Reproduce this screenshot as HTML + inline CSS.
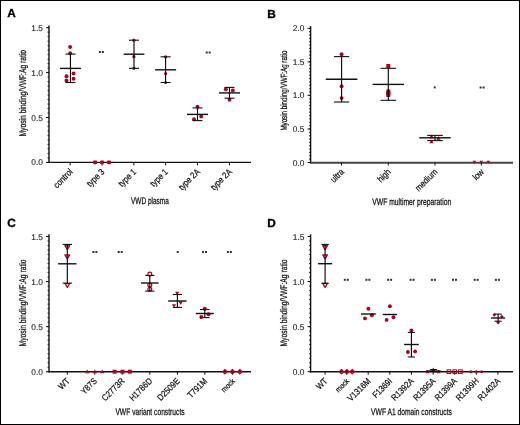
<!DOCTYPE html>
<html><head><meta charset="utf-8"><style>
html,body{margin:0;padding:0;background:#fff;}
svg{display:block;will-change:transform;}
text{font-family:"Liberation Sans",sans-serif;text-rendering:geometricPrecision;}
.t{stroke:#000;stroke-width:0.25px;}
.t2{stroke:#000;stroke-width:0.22px;}
.t3{stroke:#222;stroke-width:0.1px;}
</style></head><body>
<svg width="520" height="425" viewBox="0 0 520 425">
<rect x="0" y="0" width="520" height="425" fill="#fff"/>
<rect x="0.5" y="0.5" width="519" height="424" fill="none" stroke="#000" stroke-width="1"/>
<text x="7.2" y="17.3" font-size="11.8" text-anchor="start" font-weight="bold" fill="#000" stroke="#000" stroke-width="0.35">A</text>
<line x1="49.0" y1="25.500000000000018" x2="49.0" y2="163.0" stroke="#111" stroke-width="1.4"/>
<line x1="48.3" y1="162.4" x2="251" y2="162.4" stroke="#111" stroke-width="1.4"/>
<line x1="46.0" y1="27.700000000000017" x2="49.0" y2="27.700000000000017" stroke="#111" stroke-width="1.0"/>
<text x="43.0" y="30.700000000000017" font-size="8.4" text-anchor="end" font-weight="normal" fill="#1a1a1a" class="t3">1.5</text>
<line x1="46.0" y1="72.60000000000001" x2="49.0" y2="72.60000000000001" stroke="#111" stroke-width="1.0"/>
<text x="43.0" y="75.60000000000001" font-size="8.4" text-anchor="end" font-weight="normal" fill="#1a1a1a" class="t3">1.0</text>
<line x1="46.0" y1="117.5" x2="49.0" y2="117.5" stroke="#111" stroke-width="1.0"/>
<text x="43.0" y="120.5" font-size="8.4" text-anchor="end" font-weight="normal" fill="#1a1a1a" class="t3">0.5</text>
<line x1="46.0" y1="162.4" x2="49.0" y2="162.4" stroke="#111" stroke-width="1.0"/>
<text x="43.0" y="165.4" font-size="8.4" text-anchor="end" font-weight="normal" fill="#1a1a1a" class="t3">0.0</text>
<line x1="47.5" y1="27.700000000000017" x2="49.0" y2="27.700000000000017" stroke="#111" stroke-width="0.9"/>
<line x1="47.5" y1="32.19000000000002" x2="49.0" y2="32.19000000000002" stroke="#111" stroke-width="0.9"/>
<line x1="47.5" y1="36.68000000000002" x2="49.0" y2="36.68000000000002" stroke="#111" stroke-width="0.9"/>
<line x1="47.5" y1="41.170000000000016" x2="49.0" y2="41.170000000000016" stroke="#111" stroke-width="0.9"/>
<line x1="47.5" y1="45.66000000000002" x2="49.0" y2="45.66000000000002" stroke="#111" stroke-width="0.9"/>
<line x1="47.5" y1="50.15000000000002" x2="49.0" y2="50.15000000000002" stroke="#111" stroke-width="0.9"/>
<line x1="47.5" y1="54.640000000000015" x2="49.0" y2="54.640000000000015" stroke="#111" stroke-width="0.9"/>
<line x1="47.5" y1="59.13000000000002" x2="49.0" y2="59.13000000000002" stroke="#111" stroke-width="0.9"/>
<line x1="47.5" y1="63.62000000000002" x2="49.0" y2="63.62000000000002" stroke="#111" stroke-width="0.9"/>
<line x1="47.5" y1="68.11000000000001" x2="49.0" y2="68.11000000000001" stroke="#111" stroke-width="0.9"/>
<line x1="47.5" y1="72.60000000000002" x2="49.0" y2="72.60000000000002" stroke="#111" stroke-width="0.9"/>
<line x1="47.5" y1="77.09000000000002" x2="49.0" y2="77.09000000000002" stroke="#111" stroke-width="0.9"/>
<line x1="47.5" y1="81.58000000000001" x2="49.0" y2="81.58000000000001" stroke="#111" stroke-width="0.9"/>
<line x1="47.5" y1="86.07000000000002" x2="49.0" y2="86.07000000000002" stroke="#111" stroke-width="0.9"/>
<line x1="47.5" y1="90.56000000000002" x2="49.0" y2="90.56000000000002" stroke="#111" stroke-width="0.9"/>
<line x1="47.5" y1="95.05000000000003" x2="49.0" y2="95.05000000000003" stroke="#111" stroke-width="0.9"/>
<line x1="47.5" y1="99.54000000000002" x2="49.0" y2="99.54000000000002" stroke="#111" stroke-width="0.9"/>
<line x1="47.5" y1="104.03000000000002" x2="49.0" y2="104.03000000000002" stroke="#111" stroke-width="0.9"/>
<line x1="47.5" y1="108.52000000000002" x2="49.0" y2="108.52000000000002" stroke="#111" stroke-width="0.9"/>
<line x1="47.5" y1="113.01000000000002" x2="49.0" y2="113.01000000000002" stroke="#111" stroke-width="0.9"/>
<line x1="47.5" y1="117.50000000000003" x2="49.0" y2="117.50000000000003" stroke="#111" stroke-width="0.9"/>
<line x1="47.5" y1="121.99000000000002" x2="49.0" y2="121.99000000000002" stroke="#111" stroke-width="0.9"/>
<line x1="47.5" y1="126.48000000000002" x2="49.0" y2="126.48000000000002" stroke="#111" stroke-width="0.9"/>
<line x1="47.5" y1="130.97000000000003" x2="49.0" y2="130.97000000000003" stroke="#111" stroke-width="0.9"/>
<line x1="47.5" y1="135.46000000000004" x2="49.0" y2="135.46000000000004" stroke="#111" stroke-width="0.9"/>
<line x1="47.5" y1="139.95000000000002" x2="49.0" y2="139.95000000000002" stroke="#111" stroke-width="0.9"/>
<line x1="47.5" y1="144.44000000000003" x2="49.0" y2="144.44000000000003" stroke="#111" stroke-width="0.9"/>
<line x1="47.5" y1="148.93" x2="49.0" y2="148.93" stroke="#111" stroke-width="0.9"/>
<line x1="47.5" y1="153.42000000000002" x2="49.0" y2="153.42000000000002" stroke="#111" stroke-width="0.9"/>
<line x1="47.5" y1="157.91000000000003" x2="49.0" y2="157.91000000000003" stroke="#111" stroke-width="0.9"/>
<line x1="47.5" y1="162.40000000000003" x2="49.0" y2="162.40000000000003" stroke="#111" stroke-width="0.9"/>
<line x1="70.2" y1="162.4" x2="70.2" y2="165.4" stroke="#111" stroke-width="1.0"/>
<line x1="102.0" y1="162.4" x2="102.0" y2="165.4" stroke="#111" stroke-width="1.0"/>
<line x1="133.8" y1="162.4" x2="133.8" y2="165.4" stroke="#111" stroke-width="1.0"/>
<line x1="165.6" y1="162.4" x2="165.6" y2="165.4" stroke="#111" stroke-width="1.0"/>
<line x1="197.5" y1="162.4" x2="197.5" y2="165.4" stroke="#111" stroke-width="1.0"/>
<line x1="229.5" y1="162.4" x2="229.5" y2="165.4" stroke="#111" stroke-width="1.0"/>
<text x="73.2" y="172.4" font-size="8.9" text-anchor="end" fill="#1a1a1a" class="t2" textLength="22.97" lengthAdjust="spacingAndGlyphs" transform="rotate(-45 73.2 172.4)">control</text>
<text x="105.0" y="172.4" font-size="8.9" text-anchor="end" fill="#1a1a1a" class="t2" textLength="20.85" lengthAdjust="spacingAndGlyphs" transform="rotate(-45 105.0 172.4)">type 3</text>
<text x="136.8" y="172.4" font-size="8.9" text-anchor="end" fill="#1a1a1a" class="t2" textLength="20.85" lengthAdjust="spacingAndGlyphs" transform="rotate(-45 136.8 172.4)">type 1</text>
<text x="168.6" y="172.4" font-size="8.9" text-anchor="end" fill="#1a1a1a" class="t2" textLength="20.85" lengthAdjust="spacingAndGlyphs" transform="rotate(-45 168.6 172.4)">type 1</text>
<text x="200.5" y="172.4" font-size="8.9" text-anchor="end" fill="#1a1a1a" class="t2" textLength="25.95" lengthAdjust="spacingAndGlyphs" transform="rotate(-45 200.5 172.4)">type 2A</text>
<text x="232.5" y="172.4" font-size="8.9" text-anchor="end" fill="#1a1a1a" class="t2" textLength="25.95" lengthAdjust="spacingAndGlyphs" transform="rotate(-45 232.5 172.4)">type 2A</text>
<text x="26.2" y="93.2" font-size="9.6" text-anchor="middle" fill="#1a1a1a" textLength="86.6" lengthAdjust="spacingAndGlyphs" class="t" transform="rotate(-90 26.2 93.2)">Myosin binding/VWF:Ag ratio</text>
<text x="131.0" y="203.8" font-size="9.6" fill="#1a1a1a" class="t" textLength="37.80000000000001" lengthAdjust="spacingAndGlyphs">VWD plasma</text>
<circle cx="70.1" cy="47.0" r="1.95" fill="#b30020" stroke="none" stroke-width="0"/>
<circle cx="70.2" cy="53.2" r="1.95" fill="#b30020" stroke="none" stroke-width="0"/>
<circle cx="73.6" cy="73.5" r="1.95" fill="#b30020" stroke="none" stroke-width="0"/>
<circle cx="66.5" cy="76.3" r="1.95" fill="#b30020" stroke="none" stroke-width="0"/>
<circle cx="73.6" cy="78.8" r="1.95" fill="#b30020" stroke="none" stroke-width="0"/>
<circle cx="66.5" cy="80.5" r="1.95" fill="#b30020" stroke="none" stroke-width="0"/>
<rect x="93.0" y="160.6" width="4.2" height="3.6" rx="1.1" fill="#b30020"/>
<rect x="100.0" y="160.6" width="4.2" height="3.6" rx="1.1" fill="#b30020"/>
<rect x="106.9" y="160.6" width="4.2" height="3.6" rx="1.1" fill="#b30020"/>
<circle cx="133.9" cy="40.2" r="1.6" fill="#b30020" stroke="none" stroke-width="0"/>
<circle cx="133.9" cy="56.7" r="1.6" fill="#b30020" stroke="none" stroke-width="0"/>
<circle cx="133.9" cy="68.3" r="1.6" fill="#b30020" stroke="none" stroke-width="0"/>
<circle cx="165.6" cy="56.8" r="1.6" fill="#b30020" stroke="none" stroke-width="0"/>
<circle cx="165.6" cy="73.5" r="1.6" fill="#b30020" stroke="none" stroke-width="0"/>
<circle cx="165.6" cy="82.5" r="1.6" fill="#b30020" stroke="none" stroke-width="0"/>
<circle cx="197.5" cy="106.8" r="1.95" fill="#b30020" stroke="none" stroke-width="0"/>
<circle cx="201.2" cy="116.5" r="1.95" fill="#b30020" stroke="none" stroke-width="0"/>
<circle cx="194" cy="119.2" r="1.95" fill="#b30020" stroke="none" stroke-width="0"/>
<circle cx="225.8" cy="89.3" r="1.95" fill="#b30020" stroke="none" stroke-width="0"/>
<circle cx="232.8" cy="90.4" r="1.95" fill="#b30020" stroke="none" stroke-width="0"/>
<circle cx="229.5" cy="99.7" r="1.95" fill="#b30020" stroke="none" stroke-width="0"/>
<rect x="98.9" y="51.0" width="2" height="2" fill="#333"/>
<rect x="101.9" y="51.0" width="2" height="2" fill="#333"/>
<rect x="205.70000000000002" y="51.5" width="2" height="2" fill="#333"/>
<rect x="208.70000000000002" y="51.5" width="2" height="2" fill="#333"/>
<line x1="70.45" y1="54.1" x2="70.45" y2="82.5" stroke="#000" stroke-width="1.1"/>
<line x1="65.45" y1="54.1" x2="75.45" y2="54.1" stroke="#111" stroke-width="1.1"/>
<line x1="65.45" y1="82.5" x2="75.45" y2="82.5" stroke="#111" stroke-width="1.1"/>
<line x1="59.95" y1="68.4" x2="80.95" y2="68.4" stroke="#111" stroke-width="1.4"/>
<line x1="134.0" y1="40.2" x2="134.0" y2="68.3" stroke="#000" stroke-width="1.1"/>
<line x1="129.0" y1="40.2" x2="139.0" y2="40.2" stroke="#111" stroke-width="1.1"/>
<line x1="129.0" y1="68.3" x2="139.0" y2="68.3" stroke="#111" stroke-width="1.1"/>
<line x1="123.6" y1="54.2" x2="144.4" y2="54.2" stroke="#111" stroke-width="1.4"/>
<line x1="165.6" y1="56.8" x2="165.6" y2="82.5" stroke="#000" stroke-width="1.1"/>
<line x1="160.6" y1="56.8" x2="170.6" y2="56.8" stroke="#111" stroke-width="1.1"/>
<line x1="160.6" y1="82.5" x2="170.6" y2="82.5" stroke="#111" stroke-width="1.1"/>
<line x1="155.1" y1="69.8" x2="176.1" y2="69.8" stroke="#111" stroke-width="1.4"/>
<line x1="197.5" y1="107.9" x2="197.5" y2="120.6" stroke="#000" stroke-width="1.1"/>
<line x1="192.5" y1="107.9" x2="202.5" y2="107.9" stroke="#111" stroke-width="1.1"/>
<line x1="192.5" y1="120.6" x2="202.5" y2="120.6" stroke="#111" stroke-width="1.1"/>
<line x1="187.0" y1="114.4" x2="208.0" y2="114.4" stroke="#111" stroke-width="1.4"/>
<line x1="229.5" y1="87.4" x2="229.5" y2="98.2" stroke="#000" stroke-width="1.1"/>
<line x1="224.5" y1="87.4" x2="234.5" y2="87.4" stroke="#111" stroke-width="1.1"/>
<line x1="224.5" y1="98.2" x2="234.5" y2="98.2" stroke="#111" stroke-width="1.1"/>
<line x1="219.0" y1="92.9" x2="240.0" y2="92.9" stroke="#111" stroke-width="1.4"/>
<text x="267.2" y="17.6" font-size="11.8" text-anchor="start" font-weight="bold" fill="#000" stroke="#000" stroke-width="0.35">B</text>
<line x1="310.6" y1="26.100000000000012" x2="310.6" y2="163.1" stroke="#111" stroke-width="1.4"/>
<line x1="309.90000000000003" y1="162.8" x2="513" y2="162.8" stroke="#444" stroke-width="2.0"/>
<line x1="307.6" y1="28.30000000000001" x2="310.6" y2="28.30000000000001" stroke="#111" stroke-width="1.0"/>
<text x="304.4" y="31.30000000000001" font-size="8.4" text-anchor="end" font-weight="normal" fill="#1a1a1a" class="t3">2.0</text>
<line x1="307.6" y1="61.85000000000001" x2="310.6" y2="61.85000000000001" stroke="#111" stroke-width="1.0"/>
<text x="304.4" y="64.85000000000001" font-size="8.4" text-anchor="end" font-weight="normal" fill="#1a1a1a" class="t3">1.5</text>
<line x1="307.6" y1="95.4" x2="310.6" y2="95.4" stroke="#111" stroke-width="1.0"/>
<text x="304.4" y="98.4" font-size="8.4" text-anchor="end" font-weight="normal" fill="#1a1a1a" class="t3">1.0</text>
<line x1="307.6" y1="128.95" x2="310.6" y2="128.95" stroke="#111" stroke-width="1.0"/>
<text x="304.4" y="131.95" font-size="8.4" text-anchor="end" font-weight="normal" fill="#1a1a1a" class="t3">0.5</text>
<line x1="307.6" y1="162.5" x2="310.6" y2="162.5" stroke="#111" stroke-width="1.0"/>
<text x="304.4" y="165.5" font-size="8.4" text-anchor="end" font-weight="normal" fill="#1a1a1a" class="t3">0.0</text>
<line x1="309.1" y1="28.30000000000001" x2="310.6" y2="28.30000000000001" stroke="#111" stroke-width="0.9"/>
<line x1="309.1" y1="31.655000000000012" x2="310.6" y2="31.655000000000012" stroke="#111" stroke-width="0.9"/>
<line x1="309.1" y1="35.01000000000001" x2="310.6" y2="35.01000000000001" stroke="#111" stroke-width="0.9"/>
<line x1="309.1" y1="38.36500000000001" x2="310.6" y2="38.36500000000001" stroke="#111" stroke-width="0.9"/>
<line x1="309.1" y1="41.72000000000001" x2="310.6" y2="41.72000000000001" stroke="#111" stroke-width="0.9"/>
<line x1="309.1" y1="45.07500000000001" x2="310.6" y2="45.07500000000001" stroke="#111" stroke-width="0.9"/>
<line x1="309.1" y1="48.43000000000001" x2="310.6" y2="48.43000000000001" stroke="#111" stroke-width="0.9"/>
<line x1="309.1" y1="51.78500000000001" x2="310.6" y2="51.78500000000001" stroke="#111" stroke-width="0.9"/>
<line x1="309.1" y1="55.140000000000015" x2="310.6" y2="55.140000000000015" stroke="#111" stroke-width="0.9"/>
<line x1="309.1" y1="58.49500000000001" x2="310.6" y2="58.49500000000001" stroke="#111" stroke-width="0.9"/>
<line x1="309.1" y1="61.85000000000001" x2="310.6" y2="61.85000000000001" stroke="#111" stroke-width="0.9"/>
<line x1="309.1" y1="65.20500000000001" x2="310.6" y2="65.20500000000001" stroke="#111" stroke-width="0.9"/>
<line x1="309.1" y1="68.56" x2="310.6" y2="68.56" stroke="#111" stroke-width="0.9"/>
<line x1="309.1" y1="71.91500000000002" x2="310.6" y2="71.91500000000002" stroke="#111" stroke-width="0.9"/>
<line x1="309.1" y1="75.27000000000001" x2="310.6" y2="75.27000000000001" stroke="#111" stroke-width="0.9"/>
<line x1="309.1" y1="78.62500000000001" x2="310.6" y2="78.62500000000001" stroke="#111" stroke-width="0.9"/>
<line x1="309.1" y1="81.98000000000002" x2="310.6" y2="81.98000000000002" stroke="#111" stroke-width="0.9"/>
<line x1="309.1" y1="85.33500000000001" x2="310.6" y2="85.33500000000001" stroke="#111" stroke-width="0.9"/>
<line x1="309.1" y1="88.69000000000001" x2="310.6" y2="88.69000000000001" stroke="#111" stroke-width="0.9"/>
<line x1="309.1" y1="92.04500000000002" x2="310.6" y2="92.04500000000002" stroke="#111" stroke-width="0.9"/>
<line x1="309.1" y1="95.4" x2="310.6" y2="95.4" stroke="#111" stroke-width="0.9"/>
<line x1="309.1" y1="98.75500000000001" x2="310.6" y2="98.75500000000001" stroke="#111" stroke-width="0.9"/>
<line x1="309.1" y1="102.11000000000001" x2="310.6" y2="102.11000000000001" stroke="#111" stroke-width="0.9"/>
<line x1="309.1" y1="105.46500000000002" x2="310.6" y2="105.46500000000002" stroke="#111" stroke-width="0.9"/>
<line x1="309.1" y1="108.82000000000001" x2="310.6" y2="108.82000000000001" stroke="#111" stroke-width="0.9"/>
<line x1="309.1" y1="112.17500000000001" x2="310.6" y2="112.17500000000001" stroke="#111" stroke-width="0.9"/>
<line x1="309.1" y1="115.53000000000002" x2="310.6" y2="115.53000000000002" stroke="#111" stroke-width="0.9"/>
<line x1="309.1" y1="118.885" x2="310.6" y2="118.885" stroke="#111" stroke-width="0.9"/>
<line x1="309.1" y1="122.24000000000001" x2="310.6" y2="122.24000000000001" stroke="#111" stroke-width="0.9"/>
<line x1="309.1" y1="125.59500000000001" x2="310.6" y2="125.59500000000001" stroke="#111" stroke-width="0.9"/>
<line x1="309.1" y1="128.95000000000002" x2="310.6" y2="128.95000000000002" stroke="#111" stroke-width="0.9"/>
<line x1="309.1" y1="132.305" x2="310.6" y2="132.305" stroke="#111" stroke-width="0.9"/>
<line x1="309.1" y1="135.66000000000003" x2="310.6" y2="135.66000000000003" stroke="#111" stroke-width="0.9"/>
<line x1="309.1" y1="139.01500000000001" x2="310.6" y2="139.01500000000001" stroke="#111" stroke-width="0.9"/>
<line x1="309.1" y1="142.37" x2="310.6" y2="142.37" stroke="#111" stroke-width="0.9"/>
<line x1="309.1" y1="145.72500000000002" x2="310.6" y2="145.72500000000002" stroke="#111" stroke-width="0.9"/>
<line x1="309.1" y1="149.08" x2="310.6" y2="149.08" stroke="#111" stroke-width="0.9"/>
<line x1="309.1" y1="152.435" x2="310.6" y2="152.435" stroke="#111" stroke-width="0.9"/>
<line x1="309.1" y1="155.79000000000002" x2="310.6" y2="155.79000000000002" stroke="#111" stroke-width="0.9"/>
<line x1="309.1" y1="159.145" x2="310.6" y2="159.145" stroke="#111" stroke-width="0.9"/>
<line x1="309.1" y1="162.5" x2="310.6" y2="162.5" stroke="#111" stroke-width="0.9"/>
<line x1="341.5" y1="162.5" x2="341.5" y2="165.5" stroke="#111" stroke-width="1.0"/>
<line x1="388.3" y1="162.5" x2="388.3" y2="165.5" stroke="#111" stroke-width="1.0"/>
<line x1="435.0" y1="162.5" x2="435.0" y2="165.5" stroke="#111" stroke-width="1.0"/>
<line x1="481.3" y1="162.5" x2="481.3" y2="165.5" stroke="#111" stroke-width="1.0"/>
<text x="344.5" y="172.5" font-size="8.9" text-anchor="end" fill="#1a1a1a" class="t2" textLength="14.89" lengthAdjust="spacingAndGlyphs" transform="rotate(-45 344.5 172.5)">ultra</text>
<text x="391.3" y="172.5" font-size="8.9" text-anchor="end" fill="#1a1a1a" class="t2" textLength="14.47" lengthAdjust="spacingAndGlyphs" transform="rotate(-45 391.3 172.5)">high</text>
<text x="438.0" y="172.5" font-size="8.9" text-anchor="end" fill="#1a1a1a" class="t2" textLength="27.22" lengthAdjust="spacingAndGlyphs" transform="rotate(-45 438.0 172.5)">medium</text>
<text x="484.3" y="172.5" font-size="8.9" text-anchor="end" fill="#1a1a1a" class="t2" textLength="11.48" lengthAdjust="spacingAndGlyphs" transform="rotate(-45 484.3 172.5)">low</text>
<text x="286.8" y="90.6" font-size="9.0" text-anchor="middle" fill="#1a1a1a" textLength="80.0" lengthAdjust="spacingAndGlyphs" class="t" transform="rotate(-90 286.8 90.6)">Myosin binding/VWF:Ag ratio</text>
<text x="372.3" y="204.5" font-size="9.6" fill="#1a1a1a" class="t" textLength="78.89999999999998" lengthAdjust="spacingAndGlyphs">VWF multimer preparation</text>
<circle cx="341.6" cy="54.2" r="1.95" fill="#b30020" stroke="none" stroke-width="0"/>
<circle cx="341.6" cy="86.3" r="1.95" fill="#b30020" stroke="none" stroke-width="0"/>
<circle cx="341.6" cy="98.1" r="1.95" fill="#b30020" stroke="none" stroke-width="0"/>
<rect x="386.3" y="64.0" width="4.0" height="4.0" fill="#b30020"/>
<rect x="386.3" y="89.5" width="4.0" height="4.0" fill="#b30020"/>
<rect x="386.3" y="91.5" width="4.0" height="4.0" fill="#b30020"/>
<rect x="386.3" y="93.0" width="4.0" height="4.0" fill="#b30020"/>
<polygon points="429.3,138.15 433.7,138.15 431.5,134.41" fill="#b30020"/>
<polygon points="436.3,139.85 440.7,139.85 438.5,136.10999999999999" fill="#b30020"/>
<polygon points="429.3,143.15 433.7,143.15 431.5,139.41" fill="#b30020"/>
<polygon points="472.59999999999997,160.65 476.2,160.65 474.4,163.71" fill="#b30020"/>
<polygon points="479.5,160.65 483.1,160.65 481.3,163.71" fill="#b30020"/>
<polygon points="486.5,160.65 490.1,160.65 488.3,163.71" fill="#b30020"/>
<rect x="433.75" y="86.4" width="2" height="2" fill="#333"/>
<rect x="479.59999999999997" y="86.5" width="2" height="2" fill="#333"/>
<rect x="482.59999999999997" y="86.5" width="2" height="2" fill="#333"/>
<line x1="341.6" y1="56.6" x2="341.6" y2="102" stroke="#000" stroke-width="1.1"/>
<line x1="334.0" y1="56.6" x2="349.20000000000005" y2="56.6" stroke="#111" stroke-width="1.1"/>
<line x1="334.0" y1="102" x2="349.20000000000005" y2="102" stroke="#111" stroke-width="1.1"/>
<line x1="325.8" y1="79.25" x2="357.40000000000003" y2="79.25" stroke="#111" stroke-width="1.4"/>
<line x1="388.3" y1="68.3" x2="388.3" y2="100.3" stroke="#000" stroke-width="1.1"/>
<line x1="380.5" y1="68.3" x2="396.1" y2="68.3" stroke="#111" stroke-width="1.1"/>
<line x1="380.5" y1="100.3" x2="396.1" y2="100.3" stroke="#111" stroke-width="1.1"/>
<line x1="372.6" y1="84.4" x2="404.0" y2="84.4" stroke="#111" stroke-width="1.4"/>
<line x1="435.0" y1="135.4" x2="435.0" y2="140.6" stroke="#000" stroke-width="1.1"/>
<line x1="427.2" y1="135.4" x2="442.8" y2="135.4" stroke="#111" stroke-width="1.1"/>
<line x1="427.2" y1="140.6" x2="442.8" y2="140.6" stroke="#111" stroke-width="1.1"/>
<line x1="419.3" y1="137.8" x2="450.7" y2="137.8" stroke="#111" stroke-width="1.4"/>
<text x="7.2" y="226.8" font-size="11.8" text-anchor="start" font-weight="bold" fill="#000" stroke="#000" stroke-width="0.35">C</text>
<line x1="49.0" y1="234.3" x2="49.0" y2="372.3" stroke="#111" stroke-width="1.4"/>
<line x1="48.3" y1="371.7" x2="251" y2="371.7" stroke="#111" stroke-width="1.4"/>
<line x1="46.0" y1="236.5" x2="49.0" y2="236.5" stroke="#111" stroke-width="1.0"/>
<text x="43.0" y="239.5" font-size="8.4" text-anchor="end" font-weight="normal" fill="#1a1a1a" class="t3">1.5</text>
<line x1="46.0" y1="281.56666666666666" x2="49.0" y2="281.56666666666666" stroke="#111" stroke-width="1.0"/>
<text x="43.0" y="284.56666666666666" font-size="8.4" text-anchor="end" font-weight="normal" fill="#1a1a1a" class="t3">1.0</text>
<line x1="46.0" y1="326.6333333333333" x2="49.0" y2="326.6333333333333" stroke="#111" stroke-width="1.0"/>
<text x="43.0" y="329.6333333333333" font-size="8.4" text-anchor="end" font-weight="normal" fill="#1a1a1a" class="t3">0.5</text>
<line x1="46.0" y1="371.7" x2="49.0" y2="371.7" stroke="#111" stroke-width="1.0"/>
<text x="43.0" y="374.7" font-size="8.4" text-anchor="end" font-weight="normal" fill="#1a1a1a" class="t3">0.0</text>
<line x1="47.5" y1="236.5" x2="49.0" y2="236.5" stroke="#111" stroke-width="0.9"/>
<line x1="47.5" y1="241.00666666666666" x2="49.0" y2="241.00666666666666" stroke="#111" stroke-width="0.9"/>
<line x1="47.5" y1="245.51333333333332" x2="49.0" y2="245.51333333333332" stroke="#111" stroke-width="0.9"/>
<line x1="47.5" y1="250.02" x2="49.0" y2="250.02" stroke="#111" stroke-width="0.9"/>
<line x1="47.5" y1="254.52666666666667" x2="49.0" y2="254.52666666666667" stroke="#111" stroke-width="0.9"/>
<line x1="47.5" y1="259.03333333333336" x2="49.0" y2="259.03333333333336" stroke="#111" stroke-width="0.9"/>
<line x1="47.5" y1="263.54" x2="49.0" y2="263.54" stroke="#111" stroke-width="0.9"/>
<line x1="47.5" y1="268.0466666666667" x2="49.0" y2="268.0466666666667" stroke="#111" stroke-width="0.9"/>
<line x1="47.5" y1="272.55333333333334" x2="49.0" y2="272.55333333333334" stroke="#111" stroke-width="0.9"/>
<line x1="47.5" y1="277.06" x2="49.0" y2="277.06" stroke="#111" stroke-width="0.9"/>
<line x1="47.5" y1="281.56666666666666" x2="49.0" y2="281.56666666666666" stroke="#111" stroke-width="0.9"/>
<line x1="47.5" y1="286.0733333333333" x2="49.0" y2="286.0733333333333" stroke="#111" stroke-width="0.9"/>
<line x1="47.5" y1="290.58" x2="49.0" y2="290.58" stroke="#111" stroke-width="0.9"/>
<line x1="47.5" y1="295.08666666666664" x2="49.0" y2="295.08666666666664" stroke="#111" stroke-width="0.9"/>
<line x1="47.5" y1="299.59333333333336" x2="49.0" y2="299.59333333333336" stroke="#111" stroke-width="0.9"/>
<line x1="47.5" y1="304.1" x2="49.0" y2="304.1" stroke="#111" stroke-width="0.9"/>
<line x1="47.5" y1="308.6066666666667" x2="49.0" y2="308.6066666666667" stroke="#111" stroke-width="0.9"/>
<line x1="47.5" y1="313.11333333333334" x2="49.0" y2="313.11333333333334" stroke="#111" stroke-width="0.9"/>
<line x1="47.5" y1="317.62" x2="49.0" y2="317.62" stroke="#111" stroke-width="0.9"/>
<line x1="47.5" y1="322.12666666666667" x2="49.0" y2="322.12666666666667" stroke="#111" stroke-width="0.9"/>
<line x1="47.5" y1="326.6333333333333" x2="49.0" y2="326.6333333333333" stroke="#111" stroke-width="0.9"/>
<line x1="47.5" y1="331.14" x2="49.0" y2="331.14" stroke="#111" stroke-width="0.9"/>
<line x1="47.5" y1="335.64666666666665" x2="49.0" y2="335.64666666666665" stroke="#111" stroke-width="0.9"/>
<line x1="47.5" y1="340.1533333333333" x2="49.0" y2="340.1533333333333" stroke="#111" stroke-width="0.9"/>
<line x1="47.5" y1="344.65999999999997" x2="49.0" y2="344.65999999999997" stroke="#111" stroke-width="0.9"/>
<line x1="47.5" y1="349.1666666666667" x2="49.0" y2="349.1666666666667" stroke="#111" stroke-width="0.9"/>
<line x1="47.5" y1="353.67333333333335" x2="49.0" y2="353.67333333333335" stroke="#111" stroke-width="0.9"/>
<line x1="47.5" y1="358.18" x2="49.0" y2="358.18" stroke="#111" stroke-width="0.9"/>
<line x1="47.5" y1="362.68666666666667" x2="49.0" y2="362.68666666666667" stroke="#111" stroke-width="0.9"/>
<line x1="47.5" y1="367.1933333333333" x2="49.0" y2="367.1933333333333" stroke="#111" stroke-width="0.9"/>
<line x1="47.5" y1="371.70000000000005" x2="49.0" y2="371.70000000000005" stroke="#111" stroke-width="0.9"/>
<line x1="67.3" y1="371.7" x2="67.3" y2="374.7" stroke="#111" stroke-width="1.0"/>
<line x1="94.7" y1="371.7" x2="94.7" y2="374.7" stroke="#111" stroke-width="1.0"/>
<line x1="122.2" y1="371.7" x2="122.2" y2="374.7" stroke="#111" stroke-width="1.0"/>
<line x1="149.8" y1="371.7" x2="149.8" y2="374.7" stroke="#111" stroke-width="1.0"/>
<line x1="177.4" y1="371.7" x2="177.4" y2="374.7" stroke="#111" stroke-width="1.0"/>
<line x1="204.8" y1="371.7" x2="204.8" y2="374.7" stroke="#111" stroke-width="1.0"/>
<line x1="232.4" y1="371.7" x2="232.4" y2="374.7" stroke="#111" stroke-width="1.0"/>
<text x="70.3" y="381.7" font-size="8.9" text-anchor="end" fill="#1a1a1a" class="t2" textLength="11.90" lengthAdjust="spacingAndGlyphs" transform="rotate(-45 70.3 381.7)">WT</text>
<text x="97.7" y="381.7" font-size="8.9" text-anchor="end" fill="#1a1a1a" class="t2" textLength="18.72" lengthAdjust="spacingAndGlyphs" transform="rotate(-45 97.7 381.7)">Y87S</text>
<text x="125.2" y="381.7" font-size="8.9" text-anchor="end" fill="#1a1a1a" class="t2" textLength="28.08" lengthAdjust="spacingAndGlyphs" transform="rotate(-45 125.2 381.7)">C2773R</text>
<text x="152.8" y="381.7" font-size="8.9" text-anchor="end" fill="#1a1a1a" class="t2" textLength="28.08" lengthAdjust="spacingAndGlyphs" transform="rotate(-45 152.8 381.7)">H1786D</text>
<text x="180.4" y="381.7" font-size="8.9" text-anchor="end" fill="#1a1a1a" class="t2" textLength="27.66" lengthAdjust="spacingAndGlyphs" transform="rotate(-45 180.4 381.7)">D2509E</text>
<text x="207.8" y="381.7" font-size="8.9" text-anchor="end" fill="#1a1a1a" class="t2" textLength="23.82" lengthAdjust="spacingAndGlyphs" transform="rotate(-45 207.8 381.7)">T791M</text>
<text x="235.4" y="381.7" font-size="7.6" text-anchor="end" fill="#1a1a1a" class="t2" textLength="15.61" lengthAdjust="spacingAndGlyphs" transform="rotate(-45 235.4 381.7)">mock</text>
<text x="26.2" y="302.95" font-size="9.6" text-anchor="middle" fill="#1a1a1a" textLength="87.10000000000002" lengthAdjust="spacingAndGlyphs" class="t" transform="rotate(-90 26.2 302.95)">Myosin binding/VWF:Ag ratio</text>
<text x="115.4" y="415.1" font-size="9.6" fill="#1a1a1a" class="t" textLength="69.19999999999999" lengthAdjust="spacingAndGlyphs">VWF variant constructs</text>
<polygon points="64.95,245.63750000000002 69.64999999999999,245.63750000000002 67.3,249.6325" fill="none" stroke="#b30020" stroke-width="1.3" stroke-linejoin="round"/>
<polygon points="64.95,254.83750000000003 69.64999999999999,254.83750000000003 67.3,258.83250000000004" fill="none" stroke="#b30020" stroke-width="1.3" stroke-linejoin="round"/>
<polygon points="64.95,283.5375 69.64999999999999,283.5375 67.3,287.5325" fill="none" stroke="#b30020" stroke-width="1.3" stroke-linejoin="round"/>
<polygon points="85.1,373.34999999999997 89.5,373.34999999999997 87.3,369.61" fill="#b30020"/>
<polygon points="92.6,373.34999999999997 97.0,373.34999999999997 94.8,369.61" fill="#b30020"/>
<polygon points="100.1,373.34999999999997 104.5,373.34999999999997 102.3,369.61" fill="#b30020"/>
<rect x="112.6" y="369.7" width="4.0" height="4.0" fill="#b30020"/>
<rect x="120.5" y="369.7" width="4.0" height="4.0" fill="#b30020"/>
<rect x="127.80000000000001" y="369.7" width="4.0" height="4.0" fill="#b30020"/>
<circle cx="149.8" cy="274.0" r="1.95" fill="none" stroke="#b30020" stroke-width="1.2"/>
<circle cx="149.8" cy="285.1" r="1.95" fill="none" stroke="#b30020" stroke-width="1.2"/>
<circle cx="149.8" cy="289.3" r="1.95" fill="none" stroke="#b30020" stroke-width="1.2"/>
<polygon points="175.14999999999998,291.86249999999995 179.25,291.86249999999995 177.2,295.34749999999997" fill="#b30020"/>
<polygon points="178.64999999999998,301.4625 182.75,301.4625 180.7,304.9475" fill="#b30020"/>
<polygon points="171.95,304.36249999999995 176.05,304.36249999999995 174,307.84749999999997" fill="#b30020"/>
<circle cx="204.8" cy="308.8" r="1.95" fill="#b30020" stroke="none" stroke-width="0"/>
<circle cx="208.5" cy="314.2" r="1.95" fill="#b30020" stroke="none" stroke-width="0"/>
<circle cx="201.3" cy="317" r="1.95" fill="#b30020" stroke="none" stroke-width="0"/>
<polygon points="224.9,369.59999999999997 227.0,371.7 224.9,373.8 222.8,371.7" fill="none" stroke="#b30020" stroke-width="1.35"/>
<polygon points="232.4,369.59999999999997 234.5,371.7 232.4,373.8 230.3,371.7" fill="none" stroke="#b30020" stroke-width="1.35"/>
<polygon points="239.8,369.59999999999997 241.9,371.7 239.8,373.8 237.70000000000002,371.7" fill="none" stroke="#b30020" stroke-width="1.35"/>
<rect x="92.4" y="251" width="2" height="2" fill="#333"/>
<rect x="95.4" y="251" width="2" height="2" fill="#333"/>
<rect x="117.7" y="251" width="2" height="2" fill="#333"/>
<rect x="120.7" y="251" width="2" height="2" fill="#333"/>
<rect x="176.7" y="251" width="2" height="2" fill="#333"/>
<rect x="202.0" y="251" width="2" height="2" fill="#333"/>
<rect x="205.0" y="251" width="2" height="2" fill="#333"/>
<rect x="226.9" y="251" width="2" height="2" fill="#333"/>
<rect x="229.9" y="251" width="2" height="2" fill="#333"/>
<line x1="67.3" y1="244.4" x2="67.3" y2="283.1" stroke="#000" stroke-width="1.1"/>
<line x1="62.599999999999994" y1="244.4" x2="72.0" y2="244.4" stroke="#111" stroke-width="1.1"/>
<line x1="62.599999999999994" y1="283.1" x2="72.0" y2="283.1" stroke="#111" stroke-width="1.1"/>
<line x1="58.099999999999994" y1="263.8" x2="76.5" y2="263.8" stroke="#111" stroke-width="1.4"/>
<line x1="149.8" y1="275.4" x2="149.8" y2="291.1" stroke="#000" stroke-width="1.1"/>
<line x1="145.20000000000002" y1="275.4" x2="154.4" y2="275.4" stroke="#111" stroke-width="1.1"/>
<line x1="145.20000000000002" y1="291.1" x2="154.4" y2="291.1" stroke="#111" stroke-width="1.1"/>
<line x1="141.0" y1="283.0" x2="158.60000000000002" y2="283.0" stroke="#111" stroke-width="1.4"/>
<line x1="177.4" y1="294.5" x2="177.4" y2="307.4" stroke="#000" stroke-width="1.1"/>
<line x1="172.8" y1="294.5" x2="182.0" y2="294.5" stroke="#111" stroke-width="1.1"/>
<line x1="172.8" y1="307.4" x2="182.0" y2="307.4" stroke="#111" stroke-width="1.1"/>
<line x1="168.20000000000002" y1="301.0" x2="186.6" y2="301.0" stroke="#111" stroke-width="1.4"/>
<line x1="204.8" y1="309.5" x2="204.8" y2="317.6" stroke="#000" stroke-width="1.1"/>
<line x1="200.0" y1="309.5" x2="209.60000000000002" y2="309.5" stroke="#111" stroke-width="1.1"/>
<line x1="200.0" y1="317.6" x2="209.60000000000002" y2="317.6" stroke="#111" stroke-width="1.1"/>
<line x1="195.8" y1="313.5" x2="213.8" y2="313.5" stroke="#111" stroke-width="1.4"/>
<text x="267.2" y="226.8" font-size="11.8" text-anchor="start" font-weight="bold" fill="#000" stroke="#000" stroke-width="0.35">D</text>
<line x1="310.6" y1="234.3" x2="310.6" y2="372.3" stroke="#111" stroke-width="1.4"/>
<line x1="309.90000000000003" y1="371.7" x2="513" y2="371.7" stroke="#111" stroke-width="1.4"/>
<line x1="307.6" y1="236.5" x2="310.6" y2="236.5" stroke="#111" stroke-width="1.0"/>
<text x="304.4" y="239.5" font-size="8.4" text-anchor="end" font-weight="normal" fill="#1a1a1a" class="t3">1.5</text>
<line x1="307.6" y1="281.56666666666666" x2="310.6" y2="281.56666666666666" stroke="#111" stroke-width="1.0"/>
<text x="304.4" y="284.56666666666666" font-size="8.4" text-anchor="end" font-weight="normal" fill="#1a1a1a" class="t3">1.0</text>
<line x1="307.6" y1="326.6333333333333" x2="310.6" y2="326.6333333333333" stroke="#111" stroke-width="1.0"/>
<text x="304.4" y="329.6333333333333" font-size="8.4" text-anchor="end" font-weight="normal" fill="#1a1a1a" class="t3">0.5</text>
<line x1="307.6" y1="371.7" x2="310.6" y2="371.7" stroke="#111" stroke-width="1.0"/>
<text x="304.4" y="374.7" font-size="8.4" text-anchor="end" font-weight="normal" fill="#1a1a1a" class="t3">0.0</text>
<line x1="309.1" y1="236.5" x2="310.6" y2="236.5" stroke="#111" stroke-width="0.9"/>
<line x1="309.1" y1="241.00666666666666" x2="310.6" y2="241.00666666666666" stroke="#111" stroke-width="0.9"/>
<line x1="309.1" y1="245.51333333333332" x2="310.6" y2="245.51333333333332" stroke="#111" stroke-width="0.9"/>
<line x1="309.1" y1="250.02" x2="310.6" y2="250.02" stroke="#111" stroke-width="0.9"/>
<line x1="309.1" y1="254.52666666666667" x2="310.6" y2="254.52666666666667" stroke="#111" stroke-width="0.9"/>
<line x1="309.1" y1="259.03333333333336" x2="310.6" y2="259.03333333333336" stroke="#111" stroke-width="0.9"/>
<line x1="309.1" y1="263.54" x2="310.6" y2="263.54" stroke="#111" stroke-width="0.9"/>
<line x1="309.1" y1="268.0466666666667" x2="310.6" y2="268.0466666666667" stroke="#111" stroke-width="0.9"/>
<line x1="309.1" y1="272.55333333333334" x2="310.6" y2="272.55333333333334" stroke="#111" stroke-width="0.9"/>
<line x1="309.1" y1="277.06" x2="310.6" y2="277.06" stroke="#111" stroke-width="0.9"/>
<line x1="309.1" y1="281.56666666666666" x2="310.6" y2="281.56666666666666" stroke="#111" stroke-width="0.9"/>
<line x1="309.1" y1="286.0733333333333" x2="310.6" y2="286.0733333333333" stroke="#111" stroke-width="0.9"/>
<line x1="309.1" y1="290.58" x2="310.6" y2="290.58" stroke="#111" stroke-width="0.9"/>
<line x1="309.1" y1="295.08666666666664" x2="310.6" y2="295.08666666666664" stroke="#111" stroke-width="0.9"/>
<line x1="309.1" y1="299.59333333333336" x2="310.6" y2="299.59333333333336" stroke="#111" stroke-width="0.9"/>
<line x1="309.1" y1="304.1" x2="310.6" y2="304.1" stroke="#111" stroke-width="0.9"/>
<line x1="309.1" y1="308.6066666666667" x2="310.6" y2="308.6066666666667" stroke="#111" stroke-width="0.9"/>
<line x1="309.1" y1="313.11333333333334" x2="310.6" y2="313.11333333333334" stroke="#111" stroke-width="0.9"/>
<line x1="309.1" y1="317.62" x2="310.6" y2="317.62" stroke="#111" stroke-width="0.9"/>
<line x1="309.1" y1="322.12666666666667" x2="310.6" y2="322.12666666666667" stroke="#111" stroke-width="0.9"/>
<line x1="309.1" y1="326.6333333333333" x2="310.6" y2="326.6333333333333" stroke="#111" stroke-width="0.9"/>
<line x1="309.1" y1="331.14" x2="310.6" y2="331.14" stroke="#111" stroke-width="0.9"/>
<line x1="309.1" y1="335.64666666666665" x2="310.6" y2="335.64666666666665" stroke="#111" stroke-width="0.9"/>
<line x1="309.1" y1="340.1533333333333" x2="310.6" y2="340.1533333333333" stroke="#111" stroke-width="0.9"/>
<line x1="309.1" y1="344.65999999999997" x2="310.6" y2="344.65999999999997" stroke="#111" stroke-width="0.9"/>
<line x1="309.1" y1="349.1666666666667" x2="310.6" y2="349.1666666666667" stroke="#111" stroke-width="0.9"/>
<line x1="309.1" y1="353.67333333333335" x2="310.6" y2="353.67333333333335" stroke="#111" stroke-width="0.9"/>
<line x1="309.1" y1="358.18" x2="310.6" y2="358.18" stroke="#111" stroke-width="0.9"/>
<line x1="309.1" y1="362.68666666666667" x2="310.6" y2="362.68666666666667" stroke="#111" stroke-width="0.9"/>
<line x1="309.1" y1="367.1933333333333" x2="310.6" y2="367.1933333333333" stroke="#111" stroke-width="0.9"/>
<line x1="309.1" y1="371.70000000000005" x2="310.6" y2="371.70000000000005" stroke="#111" stroke-width="0.9"/>
<line x1="325.1" y1="371.7" x2="325.1" y2="374.7" stroke="#111" stroke-width="1.0"/>
<line x1="346.6" y1="371.7" x2="346.6" y2="374.7" stroke="#111" stroke-width="1.0"/>
<line x1="368.2" y1="371.7" x2="368.2" y2="374.7" stroke="#111" stroke-width="1.0"/>
<line x1="389.8" y1="371.7" x2="389.8" y2="374.7" stroke="#111" stroke-width="1.0"/>
<line x1="411.4" y1="371.7" x2="411.4" y2="374.7" stroke="#111" stroke-width="1.0"/>
<line x1="433.2" y1="371.7" x2="433.2" y2="374.7" stroke="#111" stroke-width="1.0"/>
<line x1="454.7" y1="371.7" x2="454.7" y2="374.7" stroke="#111" stroke-width="1.0"/>
<line x1="476.3" y1="371.7" x2="476.3" y2="374.7" stroke="#111" stroke-width="1.0"/>
<line x1="497.9" y1="371.7" x2="497.9" y2="374.7" stroke="#111" stroke-width="1.0"/>
<text x="328.1" y="381.7" font-size="8.9" text-anchor="end" fill="#1a1a1a" class="t2" textLength="11.90" lengthAdjust="spacingAndGlyphs" transform="rotate(-45 328.1 381.7)">WT</text>
<text x="349.6" y="381.7" font-size="7.6" text-anchor="end" fill="#1a1a1a" class="t2" textLength="15.61" lengthAdjust="spacingAndGlyphs" transform="rotate(-45 349.6 381.7)">mock</text>
<text x="371.2" y="381.7" font-size="8.9" text-anchor="end" fill="#1a1a1a" class="t2" textLength="28.51" lengthAdjust="spacingAndGlyphs" transform="rotate(-45 371.2 381.7)">V1316M</text>
<text x="392.8" y="381.7" font-size="8.9" text-anchor="end" fill="#1a1a1a" class="t2" textLength="23.83" lengthAdjust="spacingAndGlyphs" transform="rotate(-45 392.8 381.7)">F1369I</text>
<text x="414.4" y="381.7" font-size="8.9" text-anchor="end" fill="#1a1a1a" class="t2" textLength="27.66" lengthAdjust="spacingAndGlyphs" transform="rotate(-45 414.4 381.7)">R1392A</text>
<text x="436.2" y="381.7" font-size="8.9" text-anchor="end" fill="#1a1a1a" class="t2" textLength="27.66" lengthAdjust="spacingAndGlyphs" transform="rotate(-45 436.2 381.7)">R1395A</text>
<text x="457.7" y="381.7" font-size="8.9" text-anchor="end" fill="#1a1a1a" class="t2" textLength="27.66" lengthAdjust="spacingAndGlyphs" transform="rotate(-45 457.7 381.7)">R1399A</text>
<text x="479.3" y="381.7" font-size="8.9" text-anchor="end" fill="#1a1a1a" class="t2" textLength="28.08" lengthAdjust="spacingAndGlyphs" transform="rotate(-45 479.3 381.7)">R1399H</text>
<text x="500.9" y="381.7" font-size="8.9" text-anchor="end" fill="#1a1a1a" class="t2" textLength="27.66" lengthAdjust="spacingAndGlyphs" transform="rotate(-45 500.9 381.7)">R1402A</text>
<text x="287.0" y="302.95" font-size="9.6" text-anchor="middle" fill="#1a1a1a" textLength="87.10000000000002" lengthAdjust="spacingAndGlyphs" class="t" transform="rotate(-90 287.0 302.95)">Myosin binding/VWF:Ag ratio</text>
<text x="371.1" y="415.0" font-size="9.6" fill="#1a1a1a" class="t" textLength="80.79999999999995" lengthAdjust="spacingAndGlyphs">VWF A1 domain constructs</text>
<polygon points="322.75,245.7375 327.45000000000005,245.7375 325.1,249.7325" fill="none" stroke="#b30020" stroke-width="1.3" stroke-linejoin="round"/>
<polygon points="322.75,254.83750000000003 327.45000000000005,254.83750000000003 325.1,258.83250000000004" fill="none" stroke="#b30020" stroke-width="1.3" stroke-linejoin="round"/>
<polygon points="322.75,283.33750000000003 327.45000000000005,283.33750000000003 325.1,287.33250000000004" fill="none" stroke="#b30020" stroke-width="1.3" stroke-linejoin="round"/>
<polygon points="341.4,369.59999999999997 343.5,371.7 341.4,373.8 339.29999999999995,371.7" fill="none" stroke="#b30020" stroke-width="1.35"/>
<polygon points="346.8,369.59999999999997 348.90000000000003,371.7 346.8,373.8 344.7,371.7" fill="none" stroke="#b30020" stroke-width="1.35"/>
<polygon points="352.2,369.59999999999997 354.3,371.7 352.2,373.8 350.09999999999997,371.7" fill="none" stroke="#b30020" stroke-width="1.35"/>
<circle cx="368.4" cy="308.8" r="1.95" fill="#b30020" stroke="none" stroke-width="0"/>
<circle cx="371.9" cy="315.3" r="1.95" fill="#b30020" stroke="none" stroke-width="0"/>
<circle cx="365" cy="318.4" r="1.95" fill="#b30020" stroke="none" stroke-width="0"/>
<circle cx="389.9" cy="306.2" r="1.95" fill="#b30020" stroke="none" stroke-width="0"/>
<circle cx="393.5" cy="317.3" r="1.95" fill="#b30020" stroke="none" stroke-width="0"/>
<circle cx="386.6" cy="319.9" r="1.95" fill="#b30020" stroke="none" stroke-width="0"/>
<circle cx="411.4" cy="330.4" r="1.95" fill="#b30020" stroke="none" stroke-width="0"/>
<circle cx="415.1" cy="351.4" r="1.95" fill="#b30020" stroke="none" stroke-width="0"/>
<circle cx="407.9" cy="352" r="1.95" fill="#b30020" stroke="none" stroke-width="0"/>
<polygon points="425.6,373.325 429.4,373.325 427.5,370.09499999999997" fill="#b30020"/>
<polygon points="431.40000000000003,370.825 435.2,370.825 433.3,367.59499999999997" fill="#b30020"/>
<polygon points="436.70000000000005,373.325 440.5,373.325 438.6,370.09499999999997" fill="#b30020"/>
<rect x="447.04999999999995" y="369.84999999999997" width="3.7" height="3.7" fill="none" stroke="#b30020" stroke-width="1"/>
<rect x="452.84999999999997" y="369.84999999999997" width="3.7" height="3.7" fill="none" stroke="#b30020" stroke-width="1"/>
<rect x="458.54999999999995" y="369.84999999999997" width="3.7" height="3.7" fill="none" stroke="#b30020" stroke-width="1"/>
<circle cx="470.9" cy="371.7" r="1.5" fill="#b30020" stroke="none" stroke-width="0"/>
<circle cx="476.3" cy="371.7" r="1.5" fill="#b30020" stroke="none" stroke-width="0"/>
<circle cx="481.6" cy="371.7" r="1.5" fill="#b30020" stroke="none" stroke-width="0"/>
<polygon points="494.3,312.90000000000003 496.2,314.8 494.3,316.7 492.40000000000003,314.8" fill="#b30020"/>
<polygon points="501.8,314.8 503.7,316.7 501.8,318.59999999999997 499.90000000000003,316.7" fill="#b30020"/>
<polygon points="498.1,320.70000000000005 500.0,322.6 498.1,324.5 496.20000000000005,322.6" fill="#b30020"/>
<rect x="343.79999999999995" y="278.8" width="2" height="2" fill="#333"/>
<rect x="346.79999999999995" y="278.8" width="2" height="2" fill="#333"/>
<rect x="365.4" y="278.8" width="2" height="2" fill="#333"/>
<rect x="368.4" y="278.8" width="2" height="2" fill="#333"/>
<rect x="387.09999999999997" y="278.8" width="2" height="2" fill="#333"/>
<rect x="390.09999999999997" y="278.8" width="2" height="2" fill="#333"/>
<rect x="409.59999999999997" y="278.8" width="2" height="2" fill="#333"/>
<rect x="412.59999999999997" y="278.8" width="2" height="2" fill="#333"/>
<rect x="430.9" y="278.8" width="2" height="2" fill="#333"/>
<rect x="433.9" y="278.8" width="2" height="2" fill="#333"/>
<rect x="452.0" y="278.8" width="2" height="2" fill="#333"/>
<rect x="455.0" y="278.8" width="2" height="2" fill="#333"/>
<rect x="473.7" y="278.8" width="2" height="2" fill="#333"/>
<rect x="476.7" y="278.8" width="2" height="2" fill="#333"/>
<rect x="494.9" y="278.8" width="2" height="2" fill="#333"/>
<rect x="497.9" y="278.8" width="2" height="2" fill="#333"/>
<line x1="325.1" y1="244.4" x2="325.1" y2="283.3" stroke="#000" stroke-width="1.1"/>
<line x1="321.40000000000003" y1="244.4" x2="328.8" y2="244.4" stroke="#111" stroke-width="1.1"/>
<line x1="321.40000000000003" y1="283.3" x2="328.8" y2="283.3" stroke="#111" stroke-width="1.1"/>
<line x1="318.1" y1="263.7" x2="332.1" y2="263.7" stroke="#111" stroke-width="1.4"/>
<line x1="361.0" y1="314.0" x2="375.79999999999995" y2="314.0" stroke="#111" stroke-width="1.4"/>
<line x1="382.7" y1="314.5" x2="397.09999999999997" y2="314.5" stroke="#111" stroke-width="1.4"/>
<line x1="411.4" y1="332.4" x2="411.4" y2="357.0" stroke="#000" stroke-width="1.1"/>
<line x1="407.79999999999995" y1="332.4" x2="415.0" y2="332.4" stroke="#111" stroke-width="1.1"/>
<line x1="407.79999999999995" y1="357.0" x2="415.0" y2="357.0" stroke="#111" stroke-width="1.1"/>
<line x1="404.09999999999997" y1="344.5" x2="418.7" y2="344.5" stroke="#111" stroke-width="1.4"/>
<line x1="433.4" y1="369.6" x2="433.4" y2="371.7" stroke="#000" stroke-width="1.1"/>
<line x1="429.9" y1="369.6" x2="436.9" y2="369.6" stroke="#111" stroke-width="1.1"/>
<line x1="429.9" y1="371.7" x2="436.9" y2="371.7" stroke="#111" stroke-width="1.1"/>
<line x1="426.09999999999997" y1="371.0" x2="440.7" y2="371.0" stroke="#111" stroke-width="1.4"/>
<line x1="498.1" y1="314.1" x2="498.1" y2="321.2" stroke="#000" stroke-width="1.1"/>
<line x1="494.5" y1="314.1" x2="501.70000000000005" y2="314.1" stroke="#111" stroke-width="1.1"/>
<line x1="494.5" y1="321.2" x2="501.70000000000005" y2="321.2" stroke="#111" stroke-width="1.1"/>
<line x1="491.1" y1="318.0" x2="505.1" y2="318.0" stroke="#111" stroke-width="1.4"/>
</svg>
</body></html>
